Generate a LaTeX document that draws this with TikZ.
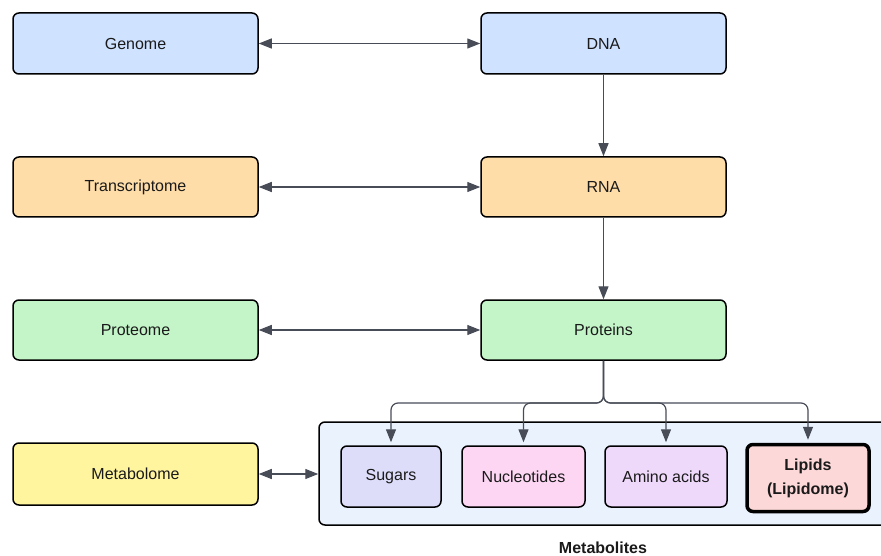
\documentclass[tikz,border=0pt]{standalone}
\usepackage{fontspec}
\setmainfont{Liberation Sans}
\usetikzlibrary{arrows.meta}
\definecolor{cblue}{HTML}{CFE2FF}
\definecolor{cpeach}{HTML}{FFDDA8}
\definecolor{cgreen}{HTML}{C3F5C8}
\definecolor{cyellow}{HTML}{FFF59E}
\definecolor{ccont}{HTML}{EAF2FE}
\definecolor{csugar}{HTML}{DDDDFA}
\definecolor{cnuc}{HTML}{FDD6F3}
\definecolor{camino}{HTML}{EFD9FB}
\definecolor{clipid}{HTML}{FDD8D8}
\definecolor{cline}{HTML}{474C57}
\definecolor{ctext}{HTML}{1A1A1A}
\begin{document}
\begin{tikzpicture}[x=1pt,y=-1pt,
  box/.style={draw=black, line width=1.5pt, rounded corners=6pt, inner sep=0pt,
    minimum width=245pt, minimum height=61pt, text=ctext,
    font=\fontsize{16}{19}\selectfont, align=center},
  small/.style={box, minimum width=122pt},
  tip/.tip={Triangle[length=13pt,width=10pt]},
  conn/.style={draw=cline, line width=1.2pt, -tip},
  dbl/.style={draw=cline, line width=1.2pt, tip-tip}
]
\useasboundingbox (0,0) rectangle (881,556);
% left column
\node[box, fill=cblue] (genome) at (135.5,43.5) {Genome};
\node[box, fill=cpeach, minimum height=60pt] (transcriptome) at (135.5,187) {Transcriptome};
\node[box, fill=cgreen, minimum height=60pt] (proteome) at (135.5,330) {Proteome};
\node[box, fill=cyellow, minimum height=62pt] (metabolome) at (135.5,474) {Metabolome};
% right column
\node[box, fill=cblue] (dna) at (603.5,43.5) {DNA};
\node[box, fill=cpeach, minimum height=60pt] (rna) at (603.5,187) {RNA};
\node[box, fill=cgreen, minimum height=60pt] (proteins) at (603.5,330) {Proteins};
% container
\node[draw=black, line width=1.5pt, rounded corners=6pt, fill=ccont, inner sep=0pt,
  minimum width=580pt, minimum height=103pt] (metabolites) at (609,473.5) {};
\node[font=\fontsize{16}{19}\selectfont\bfseries, text=ctext] (mlabel) at (603,548) {Metabolites};
% metabolite boxes
\node[small, fill=csugar, minimum width=100pt] (sugars) at (391,476.5) {Sugars};
\node[small, fill=cnuc, minimum width=123pt] (nucleotides) at (523.5,476.5) {Nucleotides};
\node[small, fill=camino] (amino) at (666,476.5) {Amino acids};
\node[small, fill=clipid, line width=3.5pt, minimum height=67pt,
  font=\fontsize{16}{24}\selectfont\bfseries] (lipids) at (808,478) {Lipids\\(Lipidome)};
% connectors
\draw[dbl] (genome.east) -- (dna.west);
\draw[dbl] (transcriptome.east) -- (rna.west);
\draw[dbl] (proteome.east) -- (proteins.west);
\draw[dbl] (metabolome.east) -- (metabolome.east -| metabolites.west);
\draw[conn] (dna.south) -- (rna.north);
\draw[conn] (rna.south) -- (proteins.north);
\coordinate (bus) at (603.5,403);
\foreach \t in {sugars,nucleotides,amino,lipids}{
  \draw[conn, rounded corners=7pt, shorten >=3pt] (proteins.south) |- (\t.north |- bus) -- (\t.north);
}
\end{tikzpicture}
\end{document}
